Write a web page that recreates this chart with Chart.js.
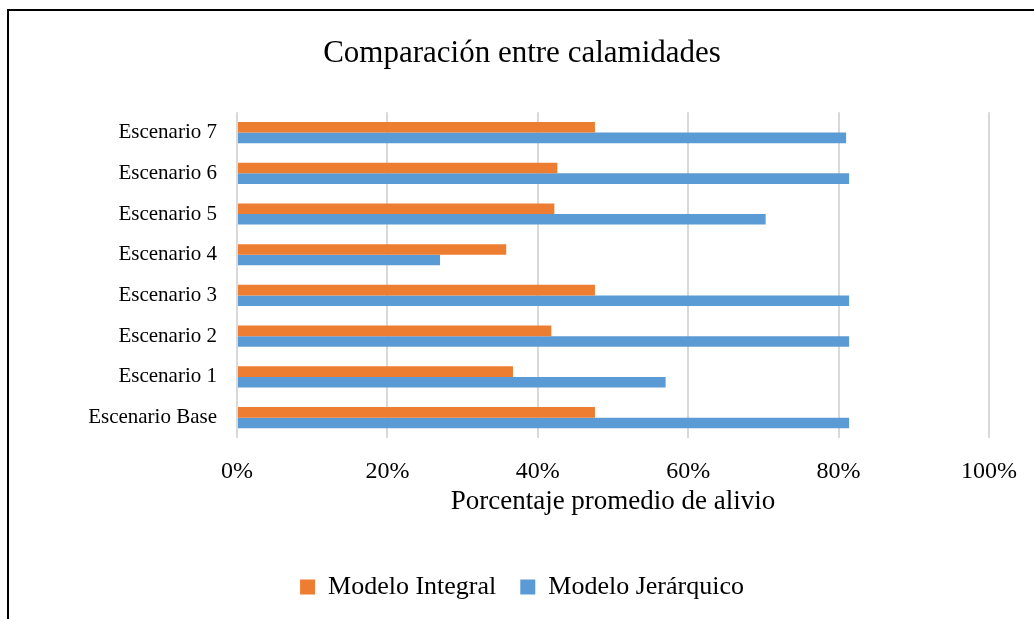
<!DOCTYPE html>
<html>
<head>
<meta charset="utf-8">
<title>Comparación entre calamidades</title>
<script src="https://cdn.jsdelivr.net/npm/chart.js@4.4.0/dist/chart.umd.min.js"></script>
<style>
  html, body { margin: 0; padding: 0; background: #fff; overflow: hidden; }
  #wrap { position: relative; width: 1034px; height: 619px; }
  /* frame of the original figure, only its top and left edges are visible */
  #frame {
    position: absolute; left: 7px; top: 9px; width: 1100px; height: 700px;
    border-left: 2px solid #000; border-top: 2px solid #000;
  }
  #chart { position: absolute; left: 0; top: 0; }
</style>
</head>
<body>
<div id="wrap">
  <div id="frame"></div>
  <canvas id="chart" width="1034" height="619"></canvas>
</div>
<script>
// categories, bottom to top as in the source spreadsheet
const ESCENARIOS = [
  "Escenario Base", "Escenario 1", "Escenario 2", "Escenario 3",
  "Escenario 4", "Escenario 5", "Escenario 6", "Escenario 7",
];

// average relief percentage per model
const MODELO_INTEGRAL = [47.6, 36.7, 41.8, 47.6, 35.8, 42.2, 42.6, 47.6];
const MODELO_JERARQUICO = [81.4, 57.0, 81.4, 81.4, 27.0, 70.3, 81.4, 81.0];

const X_TICKS = [0, 20, 40, 60, 80, 100];

const SERIF = "'Liberation Serif', 'Times New Roman', serif";

function initComparisonChart() {
  const ctx = document.getElementById("chart");
  if (!ctx) return;

  new Chart(ctx, {
    type: "bar",
    data: {
      labels: ESCENARIOS,
      datasets: [
        {
          label: "Modelo Integral",
          data: MODELO_INTEGRAL,
          backgroundColor: "#ED7D31",
          borderWidth: 0,
        },
        {
          label: "Modelo Jerárquico",
          data: MODELO_JERARQUICO,
          backgroundColor: "#5B9BD5",
          borderWidth: 0,
        },
      ],
    },
    options: {
      indexAxis: "y",
      responsive: false,
      animation: false,
      categoryPercentage: 0.52,
      barPercentage: 1.0,
      layout: { padding: { left: 10, right: 0, top: 0, bottom: 9 } },
      plugins: {
        title: {
          display: true,
          text: "Comparación entre calamidades",
          color: "#000",
          font: { family: SERIF, size: 31, weight: "normal" },
          padding: { top: 35, bottom: 40 },
        },
        legend: {
          position: "bottom",
          labels: {
            color: "#000",
            font: { family: SERIF, size: 26 },
            boxWidth: 15,
            boxHeight: 15,
            padding: 24,
          },
        },
        tooltip: { enabled: false },
      },
      scales: {
        x: {
          min: 0,
          max: 100,
          afterBuildTicks: (scale) => {
            scale.ticks = X_TICKS.map((v) => ({ value: v }));
          },
          afterFit: (scale) => {
            scale.height = 112;
            scale.paddingLeft = 0;
            scale.paddingRight = 45;
          },
          grid: { color: "#d9d9d9", lineWidth: 2, drawTicks: false },
          border: { display: false },
          ticks: {
            color: "#000",
            font: { family: SERIF, size: 24 },
            padding: 19,
            callback: (v) => v + "%",
          },
          title: {
            display: true,
            text: "Porcentaje promedio de alivio",
            color: "#000",
            font: { family: SERIF, size: 27 },
            padding: { top: 0, bottom: 32 },
          },
        },
        y: {
          reverse: true,
          afterFit: (scale) => {
            scale.width = 227;
          },
          grid: { display: false, drawTicks: false },
          border: { display: false },
          ticks: {
            color: "#000",
            font: { family: SERIF, size: 21 },
            padding: 20,
          },
        },
      },
    },
  });
}

initComparisonChart();
</script>
</body>
</html>
